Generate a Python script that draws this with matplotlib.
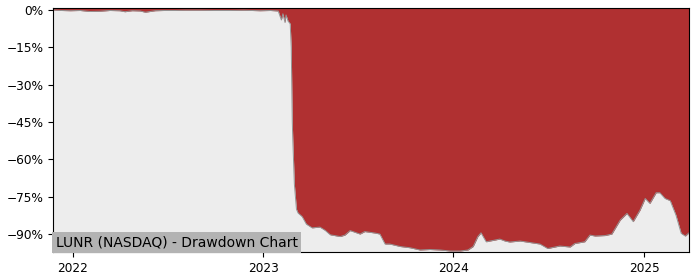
import matplotlib
matplotlib.use("Agg")
import matplotlib.pyplot as plt
import matplotlib.dates as mdates
import matplotlib.ticker as mticker
import pandas as pd

dates = [
    "2021-11-24", "2021-12-10", "2021-12-27", "2022-01-15", "2022-02-03", "2022-02-22",
    "2022-03-13", "2022-04-01", "2022-04-11", "2022-04-25", "2022-05-10", "2022-05-20",
    "2022-06-08", "2022-06-25", "2022-07-16", "2022-08-05", "2022-09-02", "2022-09-30",
    "2022-10-30", "2022-11-25", "2022-12-26", "2023-01-15", "2023-01-30", "2023-02-05",
    "2023-02-08", "2023-02-12", "2023-02-14", "2023-02-18", "2023-02-22", "2023-02-24",
    "2023-02-26", "2023-02-27", "2023-03-02", "2023-03-06", "2023-03-09", "2023-03-17",
    "2023-03-25", "2023-04-05", "2023-04-20", "2023-04-30", "2023-05-10", "2023-05-29",
    "2023-06-07", "2023-06-17", "2023-07-06", "2023-07-15", "2023-08-04", "2023-08-13",
    "2023-08-23", "2023-09-01", "2023-09-21", "2023-10-10", "2023-10-29", "2023-11-17",
    "2023-12-07", "2023-12-26", "2024-01-14", "2024-01-29", "2024-02-08", "2024-02-17",
    "2024-02-23", "2024-03-04", "2024-03-11", "2024-03-21", "2024-03-30", "2024-04-09",
    "2024-04-18", "2024-05-08", "2024-05-27", "2024-06-15", "2024-06-30", "2024-07-23",
    "2024-08-12", "2024-08-21", "2024-09-09", "2024-09-19", "2024-09-29", "2024-10-18",
    "2024-10-31", "2024-11-16", "2024-11-29", "2024-12-11", "2024-12-24", "2025-01-03",
    "2025-01-12", "2025-01-24", "2025-01-31", "2025-02-10", "2025-02-20", "2025-03-03",
    "2025-03-13", "2025-03-21", "2025-03-28",
]
drawdown = [
    0.0, -0.2, -0.3, -0.2, -0.6, -0.5,
    -0.2, -0.3, -0.7, -0.3, -0.4, -0.9,
    -0.3, -0.2, -0.2, -0.1, -0.1, -0.2,
    -0.2, -0.1, -0.3, -0.2, -0.4, -4.0,
    -1.5, -5.0, -2.0, -4.5, -5.5, -15.0,
    -45.0, -52.0, -70.0, -80.0, -81.5, -83.0,
    -86.0, -87.5, -87.2, -88.5, -90.3, -91.0,
    -90.4, -88.6, -90.0, -89.0, -89.6, -90.0,
    -94.0, -94.0, -95.0, -95.5, -96.4, -96.2,
    -96.4, -96.8, -96.8, -96.4, -95.0, -91.0,
    -89.5, -93.1, -92.8, -92.4, -92.0, -92.8,
    -93.2, -92.8, -93.4, -94.0, -95.8, -94.8,
    -95.2, -93.8, -93.1, -90.4, -90.8, -90.6,
    -90.0, -84.4, -81.7, -85.0, -80.4, -75.7,
    -77.7, -73.4, -73.4, -75.7, -76.6, -82.4,
    -89.7, -90.8, -89.5,
]
y_ticks = [0, -15, -30, -45, -60, -75, -90]
title_text = "LUNR (NASDAQ) - Drawdown Chart"

x = pd.to_datetime(dates)
y = [v / 100.0 for v in drawdown]

y_top = 0.008
y_bottom = -0.972

fig = plt.figure(figsize=(7, 2.8), dpi=100)
ax = fig.add_axes([53 / 700, 28 / 280, 636 / 700, 244 / 280])
ax.set_facecolor("#ededed")
ax.fill_between(x, y, y_top, color="#b03031", linewidth=0)
ax.plot(x, y, color="#959595", linewidth=0.7)

ax.set_xlim(x[0], x[-1])
ax.set_ylim(y_bottom, y_top)
ax.set_yticks([t / 100 for t in y_ticks])
ax.yaxis.set_major_formatter(mticker.FuncFormatter(lambda v, p: f"{v*100:.0f}%".replace("-", "\u2212")))
ax.xaxis.set_major_locator(mdates.YearLocator())
ax.xaxis.set_major_formatter(mdates.DateFormatter("%Y"))
ax.tick_params(labelsize=8.7)

ax.text(0.004, 0.012, title_text, transform=ax.transAxes, fontsize=10,
        ha="left", va="bottom",
        bbox=dict(facecolor="#b3b3b3", edgecolor="none", pad=2.5))

fig.savefig("out.png", dpi=100)
